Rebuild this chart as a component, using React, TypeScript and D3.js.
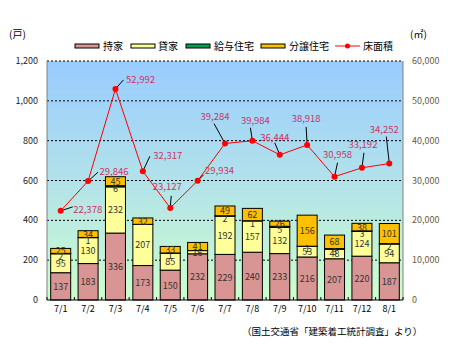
import React from 'react';
import * as d3 from 'd3';

// 月別 新設住宅着工戸数（利用関係別）と床面積
const months = ['7/1', '7/2', '7/3', '7/4', '7/5', '7/6', '7/7', '7/8', '7/9', '7/10', '7/11', '7/12', '8/1'];
const mochiie = [137, 183, 336, 173, 150, 232, 229, 240, 233, 216, 207, 220, 187];
const kashiya = [95, 130, 232, 207, 85, 16, 192, 157, 132, 53, 48, 124, 94];
const kyuyo = [2, 1, 6, 0, 1, 0, 2, 1, 5, 1, 3, 3, 2];
const bunjo = [25, 34, 45, 32, 33, 41, 49, 62, 26, 156, 68, 38, 101];
const floorArea = [22378, 29846, 52992, 32317, 23127, 29934, 39284, 39984, 36444, 38918, 30958, 33192, 34252];

const leftTicks = [0, 200, 400, 600, 800, 1000, 1200];
const rightTicks = [0, 10000, 20000, 30000, 40000, 50000, 60000];

const seriesNames = ['持家', '貸家', '給与住宅', '分譲住宅'];
const seriesColors = ['#d99594', '#ffff99', '#00a050', '#ffc000'];

// 床面積ラベルの位置（点からのずれ）: [文字中心dx, dy, 引出線dx, dy]
const areaLabelOffsets = [
  [27, -1, 12, -4],
  [26, -10, 10, -9],
  [25, -9, 8, -9],
  [25, -16, 7, -15],
  [-3, -21, 1, -12],
  [22, -10, 6, -6],
  [-10, -27, -11, -20],
  [3, -20, -2, -13],
  [-5, -17, -5, -12],
  [-1, -26, -1, -18],
  [3, -22, 3, -14],
  [1, -23, 2, -15],
  [-5, -34, -3, -27],
];

const W = 453;
const H = 351;
const plot = { left: 47, right: 403, top: 61, bottom: 300 };
const jpFont = '"Noto Sans CJK JP", sans-serif';

const fmt = d3.format(',');

const App = () => {
  const x = d3
    .scaleBand()
    .domain(months)
    .range([plot.left, plot.right])
    .paddingInner(0.27)
    .paddingOuter(0.135);
  const yL = d3.scaleLinear().domain([0, 1200]).range([plot.bottom, plot.top]);
  const yR = d3.scaleLinear().domain([0, 60000]).range([plot.bottom, plot.top]);

  const rows = months.map((m, i) => ({
    month: m,
    s0: mochiie[i],
    s1: kashiya[i],
    s2: kyuyo[i],
    s3: bunjo[i],
  }));
  const stacked = d3.stack().keys(['s0', 's1', 's2', 's3'])(rows as any);

  const line = d3
    .line<number>()
    .x((_, i) => (x(months[i]) as number) + x.bandwidth() / 2)
    .y(d => yR(d));

  const step = x.step();
  const boundaries = d3.range(months.length + 1).map(i => plot.left + i * step);

  const legendItems = [
    { x: 75, tx: 103 },
    { x: 131, tx: 158 },
    { x: 186, tx: 214 },
    { x: 261, tx: 289 },
  ];

  return (
    <svg width={W} height={H} style={{ position: 'absolute', left: 0, top: 0 }} fontFamily={jpFont}>
      <defs>
        <linearGradient id="bg" x1="0" y1="0" x2="0" y2="1">
          <stop offset="0%" stopColor="#99ccff" />
          <stop offset="50%" stopColor="#b2e2ea" />
          <stop offset="100%" stopColor="#ccffcc" />
        </linearGradient>
      </defs>
      <rect width={W} height={H} fill="#fff" />

      {/* 単位 */}
      <text x={9} y={38} fontSize={10} fill="#000">(戸)</text>
      <text x={410} y={38} fontSize={10} fill="#000">(㎡)</text>

      {/* 凡例 */}
      {legendItems.map((l, i) => (
        <g key={seriesNames[i]}>
          <rect x={l.x} y={44} width={24} height={4} fill={seriesColors[i]} stroke="#000" strokeWidth={1} />
          <text x={l.tx} y={50} fontSize={10} fill="#000">{seriesNames[i]}</text>
        </g>
      ))}
      <line x1={335} x2={360} y1={46} y2={46} stroke="#ff0000" strokeWidth={1} />
      <circle cx={347.5} cy={46} r={2.5} fill="#ff0000" />
      <text x={363} y={50} fontSize={10} fill="#000">床面積</text>

      {/* 描画エリア */}
      <rect
        x={plot.left}
        y={plot.top}
        width={plot.right - plot.left}
        height={plot.bottom - plot.top}
        fill="url(#bg)"
      />
      {leftTicks.slice(1).map(t => (
        <line
          key={t}
          x1={plot.left}
          x2={plot.right}
          y1={yL(t)}
          y2={yL(t)}
          stroke="#000"
          strokeDasharray="2,2"
          strokeWidth={1}
        />
      ))}
      <line x1={plot.left} x2={plot.left} y1={plot.top} y2={plot.bottom} stroke="#808080" />
      <line x1={plot.right} x2={plot.right} y1={plot.top} y2={plot.bottom} stroke="#808080" />

      {/* 積み上げ棒 */}
      {stacked.map((series, si) => (
        <g key={si}>
          {series.map((d, i) => (
            <rect
              key={i}
              x={x(months[i])}
              y={yL(d[1])}
              width={x.bandwidth()}
              height={Math.max(0, yL(d[0]) - yL(d[1]))}
              fill={seriesColors[si]}
              stroke="#000"
              strokeWidth={1}
            />
          ))}
        </g>
      ))}
      {stacked.map((series, si) => (
        <g key={'lbl' + si}>
          {series.map((d, i) => {
            const v = d[1] - d[0];
            if (v === 0) return null;
            return (
              <text
                key={i}
                x={(x(months[i]) as number) + x.bandwidth() / 2}
                y={(yL(d[0]) + yL(d[1])) / 2 + (si === 2 ? 6 : 3.5)}
                textAnchor="middle"
                fontSize={9}
                fill="#333"
              >
                {v}
              </text>
            );
          })}
        </g>
      ))}

      {/* x軸 */}
      <line x1={plot.left} x2={plot.right} y1={plot.bottom} y2={plot.bottom} stroke="#000" />
      {boundaries.map((bx, i) => (
        <line key={i} x1={bx} x2={bx} y1={plot.bottom - 3} y2={plot.bottom} stroke="#000" />
      ))}
      {months.map(m => (
        <text
          key={m}
          x={(x(m) as number) + x.bandwidth() / 2}
          y={312}
          textAnchor="middle"
          fontSize={9}
          fill="#000"
        >
          {m}
        </text>
      ))}

      {/* y軸ラベル */}
      {leftTicks.map(t => (
        <text key={t} x={38} y={yL(t) + 3} textAnchor="end" fontSize={9} fill="#222">
          {fmt(t)}
        </text>
      ))}
      {rightTicks.map(t => (
        <text key={t} x={412} y={yR(t) + 3} textAnchor="start" fontSize={9} fill="#6b5a3a">
          {fmt(t)}
        </text>
      ))}

      {/* 床面積 折れ線 */}
      <path d={line(floorArea) as string} fill="none" stroke="#ff0000" strokeWidth={1} />
      {floorArea.map((v, i) => {
        const cx = (x(months[i]) as number) + x.bandwidth() / 2;
        const cy = yR(v);
        const [tdx, tdy, ldx, ldy] = areaLabelOffsets[i];
        return (
          <g key={i}>
            <line x1={cx} y1={cy} x2={cx + ldx} y2={cy + ldy} stroke="#000" strokeWidth={1} />
            <circle cx={cx} cy={cy} r={3} fill="#ff0000" />
            <text x={cx + tdx} y={cy + tdy + 3.5} textAnchor="middle" fontSize={9.5} fill="#cc3366">
              {fmt(v)}
            </text>
          </g>
        );
      })}

      {/* 出典 */}
      <text x={242} y={335} fontSize={9.5} fill="#000">（国土交通省「建築着工統計調査」より）</text>
    </svg>
  );
};

export default App;
